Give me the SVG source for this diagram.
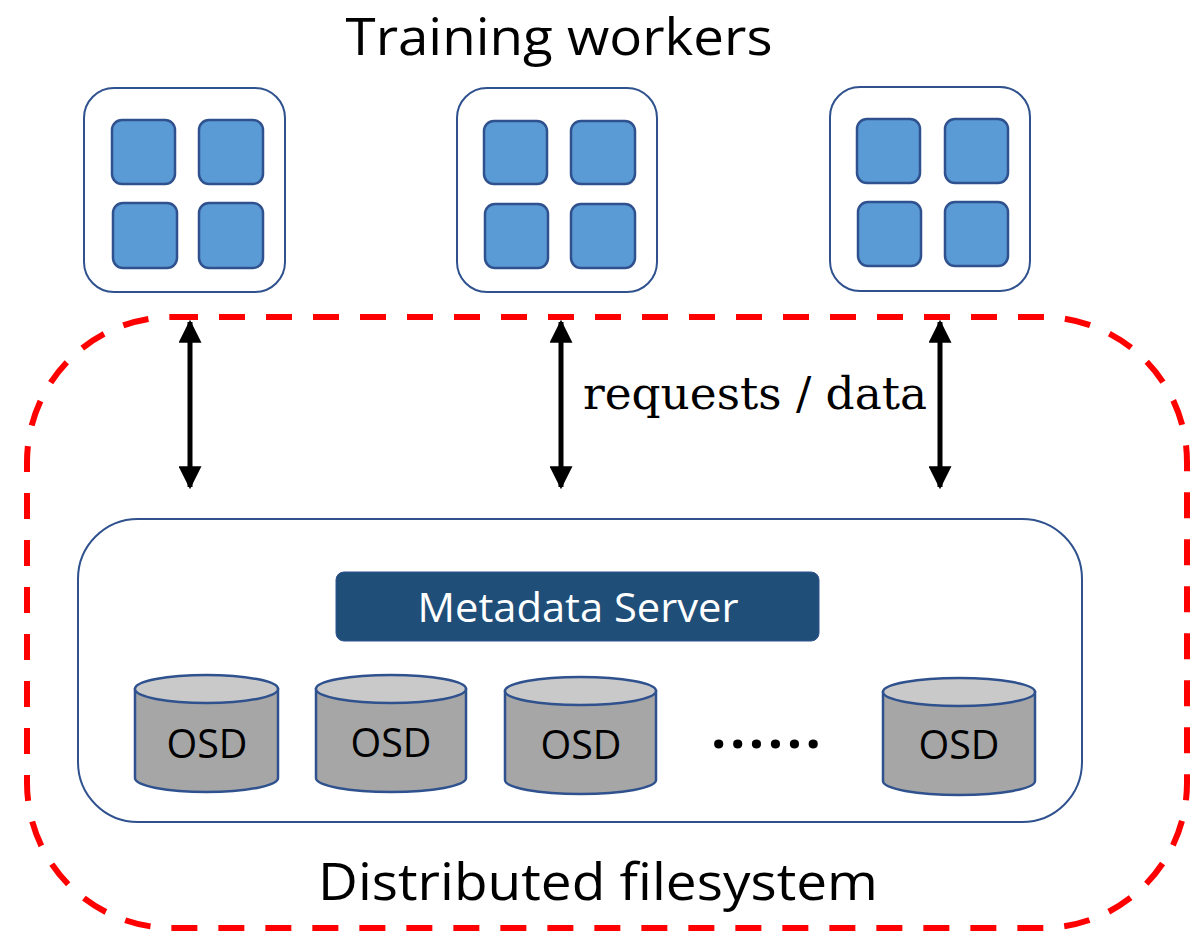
<svg xmlns="http://www.w3.org/2000/svg" width="1199" height="935" viewBox="0 0 1199 935">
<defs>
<style>
.outer{fill:#fff;stroke:#2F528F;stroke-width:2}
.core{fill:#5B9BD5;stroke:#2F528F;stroke-width:2.5}
.cylb{fill:#A6A6A6;stroke:#2F528F;stroke-width:2.5}
.cylt{fill:#C9C9C9;stroke:#2F528F;stroke-width:2.5}
.sans{font-family:"Open Sans","Liberation Sans",sans-serif}
.osd{font-family:"Open Sans","Liberation Sans",sans-serif;font-size:41px;fill:#000;text-anchor:middle}
.arr{stroke:#000;stroke-width:5;fill:none;marker-start:url(#ah);marker-end:url(#ah)}
</style>
<marker id="ah" viewBox="0 0 10 10" refX="9" refY="5" markerWidth="4.6" markerHeight="4.6" orient="auto-start-reverse" markerUnits="strokeWidth">
<path d="M0,0 L10,5 L0,10 z" fill="#000"/>
</marker>
</defs>
<rect width="1199" height="935" fill="#fff"/>

<g id="dfs-boundary">
<rect x="27" y="317" width="1160" height="611" rx="145" ry="145" fill="none" stroke="#FF0000" stroke-width="6" stroke-dasharray="26,21"/>
</g>

<text id="title-workers" class="sans" x="559" y="55" font-size="52" text-anchor="middle" textLength="427" lengthAdjust="spacingAndGlyphs">Training workers</text>

<g id="worker1">
<rect class="outer" x="84" y="88" width="201" height="204" rx="30"/>
<rect class="core" x="112" y="120" width="63" height="64" rx="10"/>
<rect class="core" x="199" y="120" width="64" height="64" rx="10"/>
<rect class="core" x="113" y="203" width="64" height="65" rx="10"/>
<rect class="core" x="199" y="203" width="64" height="65" rx="10"/>
</g>
<g id="worker2">
<rect class="outer" x="457" y="88" width="200" height="204" rx="30"/>
<rect class="core" x="484" y="121" width="63" height="63" rx="10"/>
<rect class="core" x="571" y="121" width="64" height="63" rx="10"/>
<rect class="core" x="485" y="204" width="63" height="64" rx="10"/>
<rect class="core" x="571" y="204" width="64" height="64" rx="10"/>
</g>
<g id="worker3">
<rect class="outer" x="830" y="87" width="200" height="204" rx="30"/>
<rect class="core" x="857" y="119" width="63" height="64" rx="10"/>
<rect class="core" x="945" y="119" width="63" height="64" rx="10"/>
<rect class="core" x="858" y="202" width="63" height="64" rx="10"/>
<rect class="core" x="945" y="202" width="63" height="64" rx="10"/>
</g>

<g id="connectors">
<line class="arr" x1="190" y1="322" x2="190" y2="487"/>
<line class="arr" x1="561" y1="322" x2="561" y2="487"/>
<line class="arr" x1="940" y1="322" x2="940" y2="487"/>
</g>
<text id="label-requests" x="755" y="409" font-family="'DejaVu Serif','Liberation Serif',serif" font-size="45" text-anchor="middle" textLength="344" lengthAdjust="spacingAndGlyphs">requests / data</text>

<g id="storage-cluster">
<rect class="outer" x="78" y="519" width="1004" height="303" rx="60"/>
</g>

<g id="metadata-server">
<rect x="336" y="572" width="483" height="69" rx="8" fill="#1F4E79" stroke="#2F528F" stroke-width="1"/>
<text class="sans" x="578" y="622" font-size="41" fill="#fff" text-anchor="middle" textLength="321" lengthAdjust="spacingAndGlyphs">Metadata Server</text>
</g>

<g id="osd1">
<path class="cylb" d="M135,689 L135,778 A71.5,14 0 0 0 278,778 L278,689 Z"/>
<ellipse class="cylt" cx="206.5" cy="689" rx="71.5" ry="14"/>
<text class="osd" x="207" y="758" textLength="81" lengthAdjust="spacingAndGlyphs">OSD</text>
</g>
<g id="osd2">
<path class="cylb" d="M316,689 L316,778 A75,14 0 0 0 466,778 L466,689 Z"/>
<ellipse class="cylt" cx="391" cy="689" rx="75" ry="14"/>
<text class="osd" x="391" y="757" textLength="81" lengthAdjust="spacingAndGlyphs">OSD</text>
</g>
<g id="osd3">
<path class="cylb" d="M505,691 L505,780 A75.5,14 0 0 0 656,780 L656,691 Z"/>
<ellipse class="cylt" cx="580.5" cy="691" rx="75.5" ry="14"/>
<text class="osd" x="581" y="759" textLength="81" lengthAdjust="spacingAndGlyphs">OSD</text>
</g>
<text id="ellipsis" class="sans" x="766" y="748" font-size="54" font-weight="bold" text-anchor="middle" textLength="110" lengthAdjust="spacing">......</text>
<g id="osd4">
<path class="cylb" d="M883,692 L883,781 A76,14 0 0 0 1035,781 L1035,692 Z"/>
<ellipse class="cylt" cx="959" cy="692" rx="76" ry="14"/>
<text class="osd" x="959" y="759" textLength="81" lengthAdjust="spacingAndGlyphs">OSD</text>
</g>

<text id="title-dfs" class="sans" x="598" y="900" font-size="52" text-anchor="middle" textLength="560" lengthAdjust="spacingAndGlyphs">Distributed filesystem</text>
</svg>
